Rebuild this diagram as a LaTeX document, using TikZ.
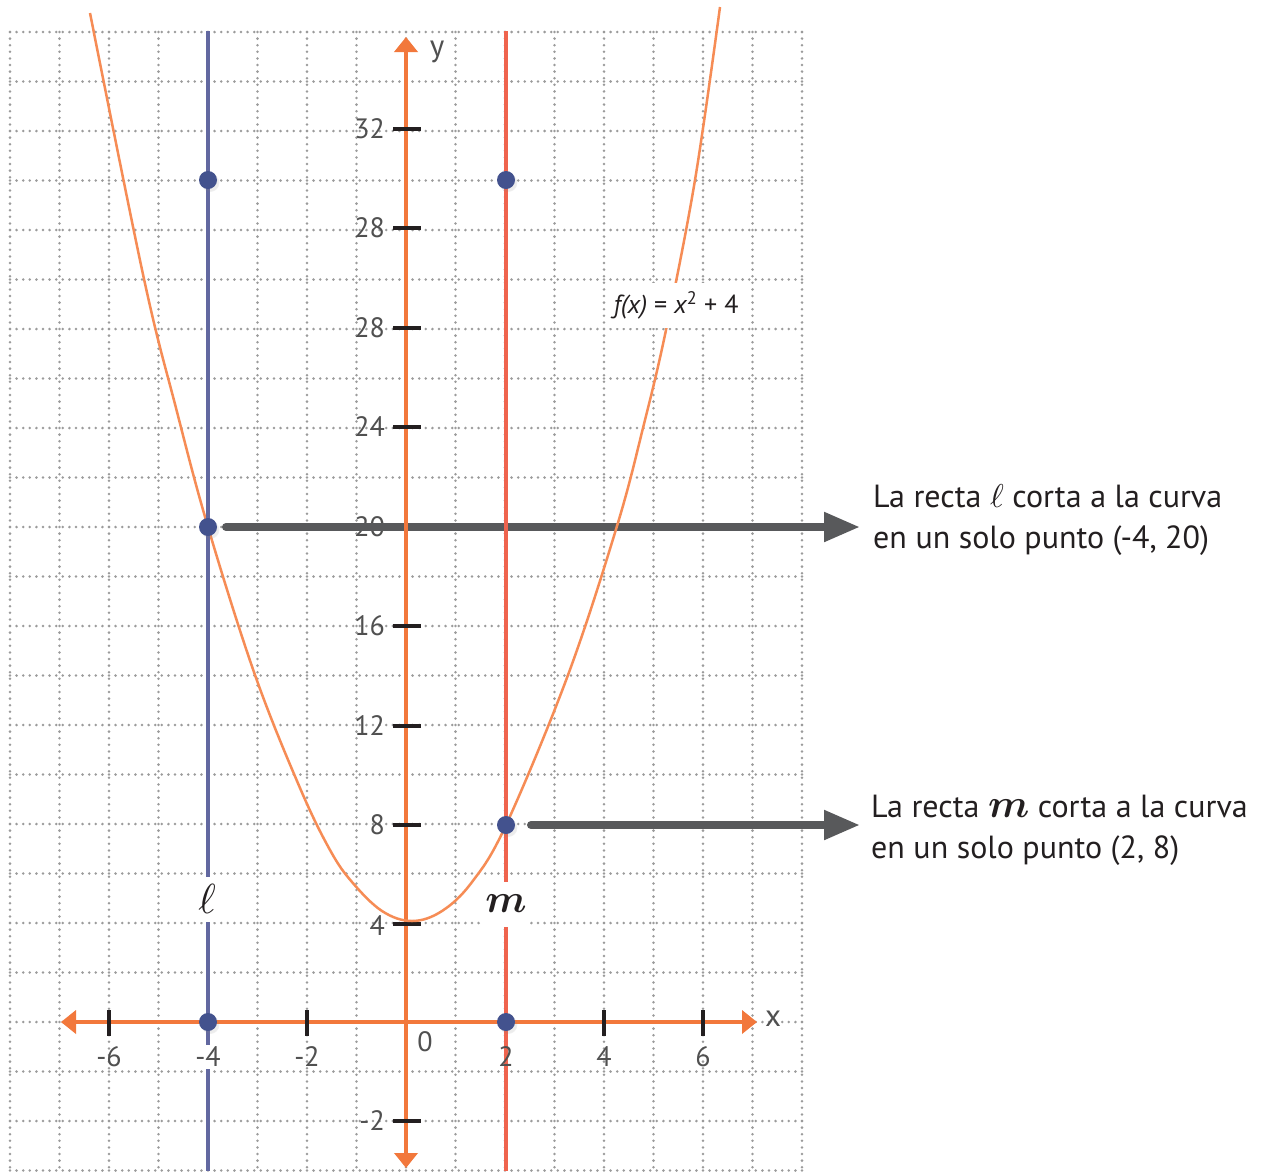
\documentclass[tikz,border=0pt]{standalone}
\DeclareFontShape{OML}{cmm}{m}{it}{<->cmmi10}{}
\DeclareFontShape{OML}{cmm}{b}{it}{<->cmmib10}{}
\usepackage{bm}
\usepackage{fontspec}
\setmainfont{PT Sans}
\usetikzlibrary{arrows.meta,shadows}
\definecolor{axisor}{RGB}{242,120,60}
\definecolor{mred}{RGB}{239,100,78}
\definecolor{lblue}{RGB}{98,104,160}
\definecolor{dotblue}{RGB}{67,82,142}
\definecolor{curveor}{RGB}{246,140,85}
\definecolor{arrowgray}{RGB}{88,89,91}
\definecolor{tickgray}{RGB}{80,80,80}
\definecolor{inkblack}{RGB}{35,31,32}
\definecolor{gridgray}{RGB}{155,155,155}
\newcommand{\mname}{$\bm{m}$}
\begin{document}
\begin{tikzpicture}[x=1pt,y=-1pt,
  gridline/.style={draw=gridgray, line width=2.8pt, line cap=round, dash pattern=on 0pt off 6.6pt},
  axisline/.style={draw=axisor, line width=4pt, {Triangle[length=15pt,width=23pt]}-{Triangle[length=15pt,width=23pt]}},
  tickmark/.style={draw=inkblack, line width=4pt},
  ticklabel/.style={text=tickgray, font=\fontsize{28}{30}\selectfont, inner sep=0pt},
  dotnode/.style={circle, fill=dotblue, minimum size=18pt, inner sep=0pt,
     circular drop shadow={shadow xshift=2pt, shadow yshift=-2.5pt, opacity=0.15, shadow scale=1.05}},
  callout/.style={draw=arrowgray, line width=8pt, line cap=round, -{Triangle[length=36pt,width=28pt]}},
  curveline/.style={draw=curveor, line width=2.5pt},
  lline/.style={draw=lblue, line width=4pt},
  mline/.style={draw=mred, line width=4.5pt},
  linename/.style={fill=white, inner xsep=3pt, inner ysep=0pt, minimum height=45pt, text=inkblack},
  infotext/.style={anchor=base west, align=left, inner sep=0pt, text=inkblack, font=\fontsize{32}{41}\selectfont}
]
\useasboundingbox (0,0) rectangle (1268,1171);
\fill[white] (0,0) rectangle (1268,1171);

% grid
\foreach \i in {0,...,16} \draw[gridline] ({10+49.5*\i},32) -- ({10+49.5*\i},1171);
\foreach \j in {0,...,23} \draw[gridline] (10,{32+49.5*\j}) -- (803,{32+49.5*\j});

% named points
\coordinate (c30l) at (208,180);
\coordinate (c30m) at (506,180);
\coordinate (c20) at (208,527);
\coordinate (c8) at (506,825);
\coordinate (c0l) at (208,1022);
\coordinate (c0m) at (506,1022);

% y tick labels
\foreach \yy/\lab in {129/32, 228/28, 328/28, 427/24, 527/20, 626/16, 726/12, 825/8, 926/4, 1121/-2}
  \node[ticklabel, anchor=east] (yl\yy) at (385,\yy) {\lab};
% x tick labels
\foreach \xx/\lab in {109/-6, 307/-2, 604/4, 703/6}
  \node[ticklabel] (xl\xx) at (\xx,1057) {\lab};
\node[ticklabel] (xl0) at (425,1042) {0};

\draw[tickmark] (393,527) -- (421,527);

% info texts (anchor at baseline of last line)
\node[infotext] (t1) at (873,548) {La recta {\fontsize{33}{33}\selectfont$\ell$} corta a la curva\\en un solo punto (-4, 20)};
\node[infotext] (t2) at (871,858) {La recta {\fontsize{40}{40}\selectfont\mname} corta a la curva\\en un solo punto (2, 8)};

% callout arrows
\draw[callout, shorten >=13pt] ([xshift=18pt]c20) -- (c20 -| t1.west);
\draw[callout, shorten >=11pt] ([xshift=25pt]c8) -- (c8 -| t2.west);

% axes
\draw[axisline] (61,1022) -- (757,1022);
\draw[axisline] (406,1168) -- (406,37);
\node[text=tickgray, font=\fontsize{31}{31}\selectfont, inner sep=0pt] (ylab) at (437,52) {y};
\node[text=tickgray, font=\fontsize{31}{31}\selectfont, inner sep=0pt] (xlab) at (773,1019) {x};

% ticks
\foreach \yy in {129,228,328,427,626,726,825,924,1121} \draw[tickmark] (393,\yy) -- (421,\yy);
\foreach \xx in {109,208,307,506,604,703} \draw[tickmark] (\xx,1010) -- (\xx,1036);

% parabola
\draw[curveline] plot[smooth, tension=0.6] coordinates {
 (90,13) (144,279) (176,408) (208,527) (255,675) (300,788) (330,850) (352,882)
 (382,911) (412,921) (442,911) (472,882) (506,825) (568,675) (617,526) (643,428)
 (666,330) (695,180) (720,7)};

% vertical lines
\draw[lline] (208,31) -- (208,1171);
\draw[mline] (506,31) -- (506,1171);
\node[ticklabel, fill=white, inner sep=2pt] (xlm4) at (208,1057) {-4};
\node[ticklabel] (xl506) at (506,1057) {2};

\node[linename, font=\fontsize{42}{42}\selectfont] (lname) at (207,899) {$\ell$};
\node[linename, font=\fontsize{40}{40}\selectfont] (mlabel) at (506,904) {\mname};

% function label
\node[fill=white, inner xsep=6pt, inner ysep=0pt, minimum height=45pt, text=inkblack,
      font=\fontsize{26}{26}\selectfont] (flabel) at (676,305)
      {\itshape f(x)\upshape{} = \itshape x\upshape\textsuperscript{2} + 4};

% points
\foreach \c in {c30l,c30m,c20,c8,c0l,c0m}
  \node[dotnode] (p\c) at (\c) {};
\end{tikzpicture}
\end{document}
